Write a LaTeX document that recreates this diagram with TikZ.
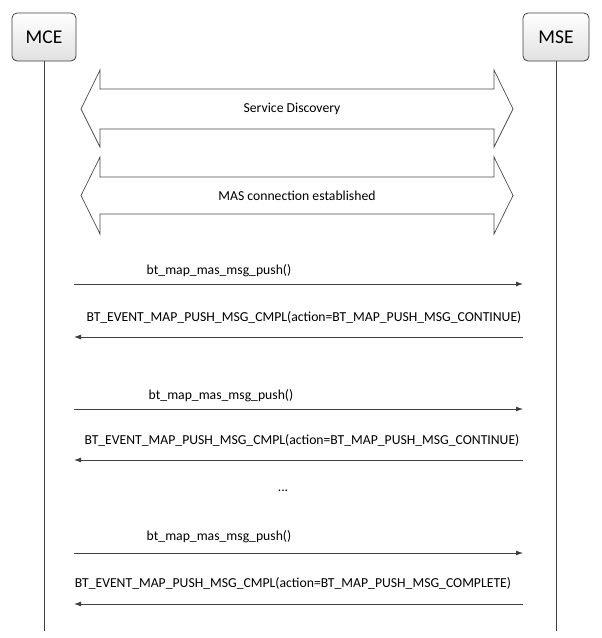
\documentclass[tikz,border=0pt]{standalone}
\usepackage{fontspec}
\setmainfont{Carlito}
\usetikzlibrary{arrows.meta}
\definecolor{lineg}{HTML}{404040}
\begin{document}
\begin{tikzpicture}[x=1pt,y=-1pt,
  actor/.style={draw=lineg,line width=0.8pt,rounded corners=5pt,top color=white,bottom color=black!12,
    minimum width=64pt,minimum height=48pt,inner sep=0pt,font=\fontsize{19.5}{22}\selectfont},
  life/.style={draw=lineg,line width=0.8pt},
  msg/.style={draw=lineg,line width=0.8pt,-{Latex[length=7pt,width=5pt]}},
  lbl/.style={inner sep=1pt,font=\fontsize{13.7}{16}\selectfont},
  banner/.style={draw=black!70,line width=0.7pt,fill=white,line join=miter},
]
\useasboundingbox (0,0) rectangle (602,638);
% actors
\node[actor] (mce) at (44,37) {MCE};
\node[actor,minimum width=66pt] (mse) at (556,37) {MSE};
\coordinate (mceend) at (44,631);
\coordinate (mseend) at (556,631);
\draw[life] (mce.south) -- (mceend);
\draw[life] (mse.south) -- (mseend);
% double arrows
\draw[banner] (81,109) -- (100,70) -- (100,89) -- (494,89) -- (494,70) -- (513,109)
  -- (494,147) -- (494,129) -- (100,129) -- (100,147) -- cycle;
\node[lbl] (sd) at (292,109) {Service Discovery};
\draw[banner] (81,195.5) -- (100,157) -- (100,177) -- (494,177) -- (494,157) -- (513,195.5)
  -- (494,234) -- (494,214) -- (100,214) -- (100,234) -- cycle;
\node[lbl] (mas) at (297,195.5) {MAS connection established};
% messages
\coordinate (a1) at (74,284); \coordinate (b1) at (523,284);
\draw[msg] (a1) -- (b1);
\node[lbl] (l1) at (219,271) {bt\_map\_mas\_msg\_push()};
\coordinate (a2) at (74,337); \coordinate (b2) at (523,337);
\draw[msg] (b2) -- (a2);
\node[lbl] (l2) at (304,317) {BT\_EVENT\_MAP\_PUSH\_MSG\_CMPL(action=BT\_MAP\_PUSH\_MSG\_CONTINUE)};
\coordinate (a3) at (74,409); \coordinate (b3) at (523,409);
\draw[msg] (a3) -- (b3);
\node[lbl] (l3) at (221,396) {bt\_map\_mas\_msg\_push()};
\coordinate (a4) at (74,460); \coordinate (b4) at (523,460);
\draw[msg] (b4) -- (a4);
\node[lbl] (l4) at (302,440) {BT\_EVENT\_MAP\_PUSH\_MSG\_CMPL(action=BT\_MAP\_PUSH\_MSG\_CONTINUE)};
\node[lbl] (dots) at (283,491) {...};
\coordinate (a5) at (74,553); \coordinate (b5) at (523,553);
\draw[msg] (a5) -- (b5);
\node[lbl] (l5) at (219,537) {bt\_map\_mas\_msg\_push()};
\coordinate (a6) at (74,604); \coordinate (b6) at (523,604);
\draw[msg] (b6) -- (a6);
\node[lbl] (l6) at (293,583) {BT\_EVENT\_MAP\_PUSH\_MSG\_CMPL(action=BT\_MAP\_PUSH\_MSG\_COMPLETE)};
\end{tikzpicture}
\end{document}
